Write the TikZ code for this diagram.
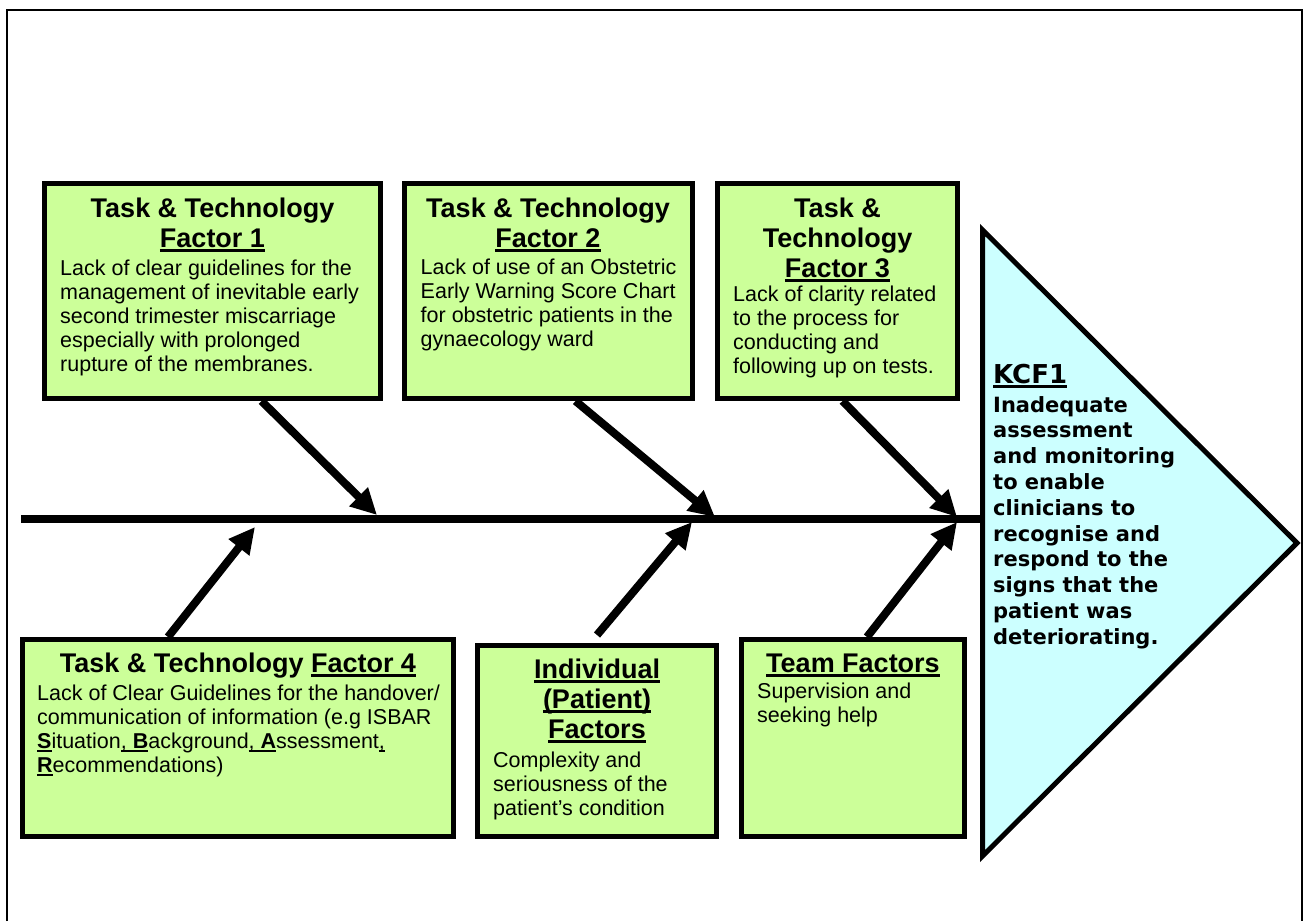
\documentclass[tikz,border=0pt]{standalone}
\usepackage{fontspec}
\setmainfont{Liberation Sans}
\newfontfamily\verdfont{DejaVu Sans}
\usetikzlibrary{arrows.meta}
\definecolor{boxgreen}{RGB}{204,255,153}
\definecolor{kcfcyan}{RGB}{204,255,255}
\newsavebox\myulbox
\newcommand{\myul}[1]{\sbox\myulbox{#1}\rlap{\rule[-0.16em]{\wd\myulbox}{0.09em}}\usebox\myulbox}
\begin{document}
\begin{tikzpicture}[x=1pt, y=-1pt,
  box/.style={draw=black, line width=5pt, fill=boxgreen, inner sep=0pt, anchor=north west},
  ttl/.style={font=\fontsize{27}{30}\selectfont\bfseries, align=center, inner sep=0pt, anchor=north},
  bod/.style={font=\fontsize{21.5}{24}\selectfont, align=left, inner sep=0pt, anchor=north west},
  arr/.style={line width=8pt, -{Triangle[length=26pt,width=25pt]}},
  spine/.style={line width=8pt},
  frameline/.style={line width=2pt},
  tri/.style={draw=black, line width=5pt, fill=kcfcyan, line join=miter},
  kttl/.style={font=\verdfont\bfseries\fontsize{26}{30}\selectfont, inner sep=0pt, anchor=north west},
  kbod/.style={font=\verdfont\bfseries\fontsize{21}{25.8}\selectfont, align=left, inner sep=0pt, anchor=north west}]
\useasboundingbox (0,0) rectangle (1306,921);
% outer frame
\draw[frameline] (7,921) -- (7,10) -- (1302,10) -- (1302,921);
% boxes
\node[box, minimum width=336pt, minimum height=215pt] (b1) at (42,181) {};
\node[box, minimum width=288pt, minimum height=215pt] (b2) at (402,181) {};
\node[box, minimum width=240pt, minimum height=215pt] (b3) at (715,181) {};
\node[box, minimum width=431pt, minimum height=197pt] (b4) at (20,637) {};
\node[box, minimum width=239pt, minimum height=191pt] (b5) at (475,643) {};
\node[box, minimum width=223pt, minimum height=197pt] (b6) at (739,637) {};
% spine and triangle
\coordinate (spL) at (21,518.5);
\coordinate (spR) at (982.5,518.5);
\coordinate (tA) at (982.5,230);
\coordinate (tB) at (1297,543);
\coordinate (tC) at (982.5,856);
\draw[spine] (spL) -- (spR);
% spine targets
\coordinate (s1) at (377,515);
\coordinate (s2) at (715,517);
\coordinate (s3) at (957,517);
\coordinate (s4) at (255,527);
\coordinate (s5) at (692,522);
\coordinate (s6) at (957,522);
% arrows
\draw[arr] ([xshift=49pt]b1.south) -- (s1);
\draw[arr] ([xshift=27pt]b2.south) -- (s2);
\draw[arr] ([xshift=5pt]b3.south) -- (s3);
\draw[arr] ([xshift=-70pt]b4.north) -- (s4);
\draw[arr] ([yshift=8pt]b5.north) -- (s5);
\draw[arr] ([xshift=14pt]b6.north) -- (s6);
\draw[tri] (tA) -- (tB) -- (tC) -- cycle;
% texts
\node[ttl] (t1) at (212.5,197.5) {Task \& Technology\\\myul{Factor 1}};
\node[bod] (d1) at (60,259.5) {Lack of clear guidelines for the\\management of inevitable early\\second trimester miscarriage\\especially with prolonged\\rupture of the membranes.};
\node[ttl] (t2) at (548,197.5) {Task \& Technology\\\myul{Factor 2}};
\node[bod] (d2) at (420.5,259) {Lack of use of an Obstetric\\Early Warning Score Chart\\for obstetric patients in the\\gynaecology ward};
\node[ttl] (t3) at (837.5,197.5) {Task \&\\Technology\\\myul{Factor 3}};
\node[bod] (d3) at (733,285.5) {Lack of clarity related\\to the process for\\conducting and\\following up on tests.};
\node[ttl] (t4) at (238,652.5) {Task \& Technology \myul{Factor 4}};
\node[bod] (d4) at (37,684.5) {Lack of Clear Guidelines for the handover/\\communication of information (e.g ISBAR\\\myul{\textbf{S}}ituation\myul{, \textbf{B}}ackground\myul{, \textbf{A}}ssessment\myul{,}\\\myul{\textbf{R}}ecommendations)};
\node[ttl] (t5) at (597,658.5) {\myul{Individual}\\\myul{(Patient)}\\\myul{Factors}};
\node[bod] (d5) at (493,751.5) {Complexity and\\seriousness of the\\patient’s condition};
\node[ttl] (t6) at (853,653.5) {\myul{Team Factors}};
\node[bod] (d6) at (757,682.5) {Supervision and\\seeking help};
\node[kttl] (k1) at (993,364) {\myul{KCF1}};
\node[kbod] (k2) at (993,396) {Inadequate\\assessment\\and monitoring\\to enable\\clinicians to\\recognise and\\respond to the\\signs that the\\patient was\\deteriorating.};
\end{tikzpicture}
\end{document}
